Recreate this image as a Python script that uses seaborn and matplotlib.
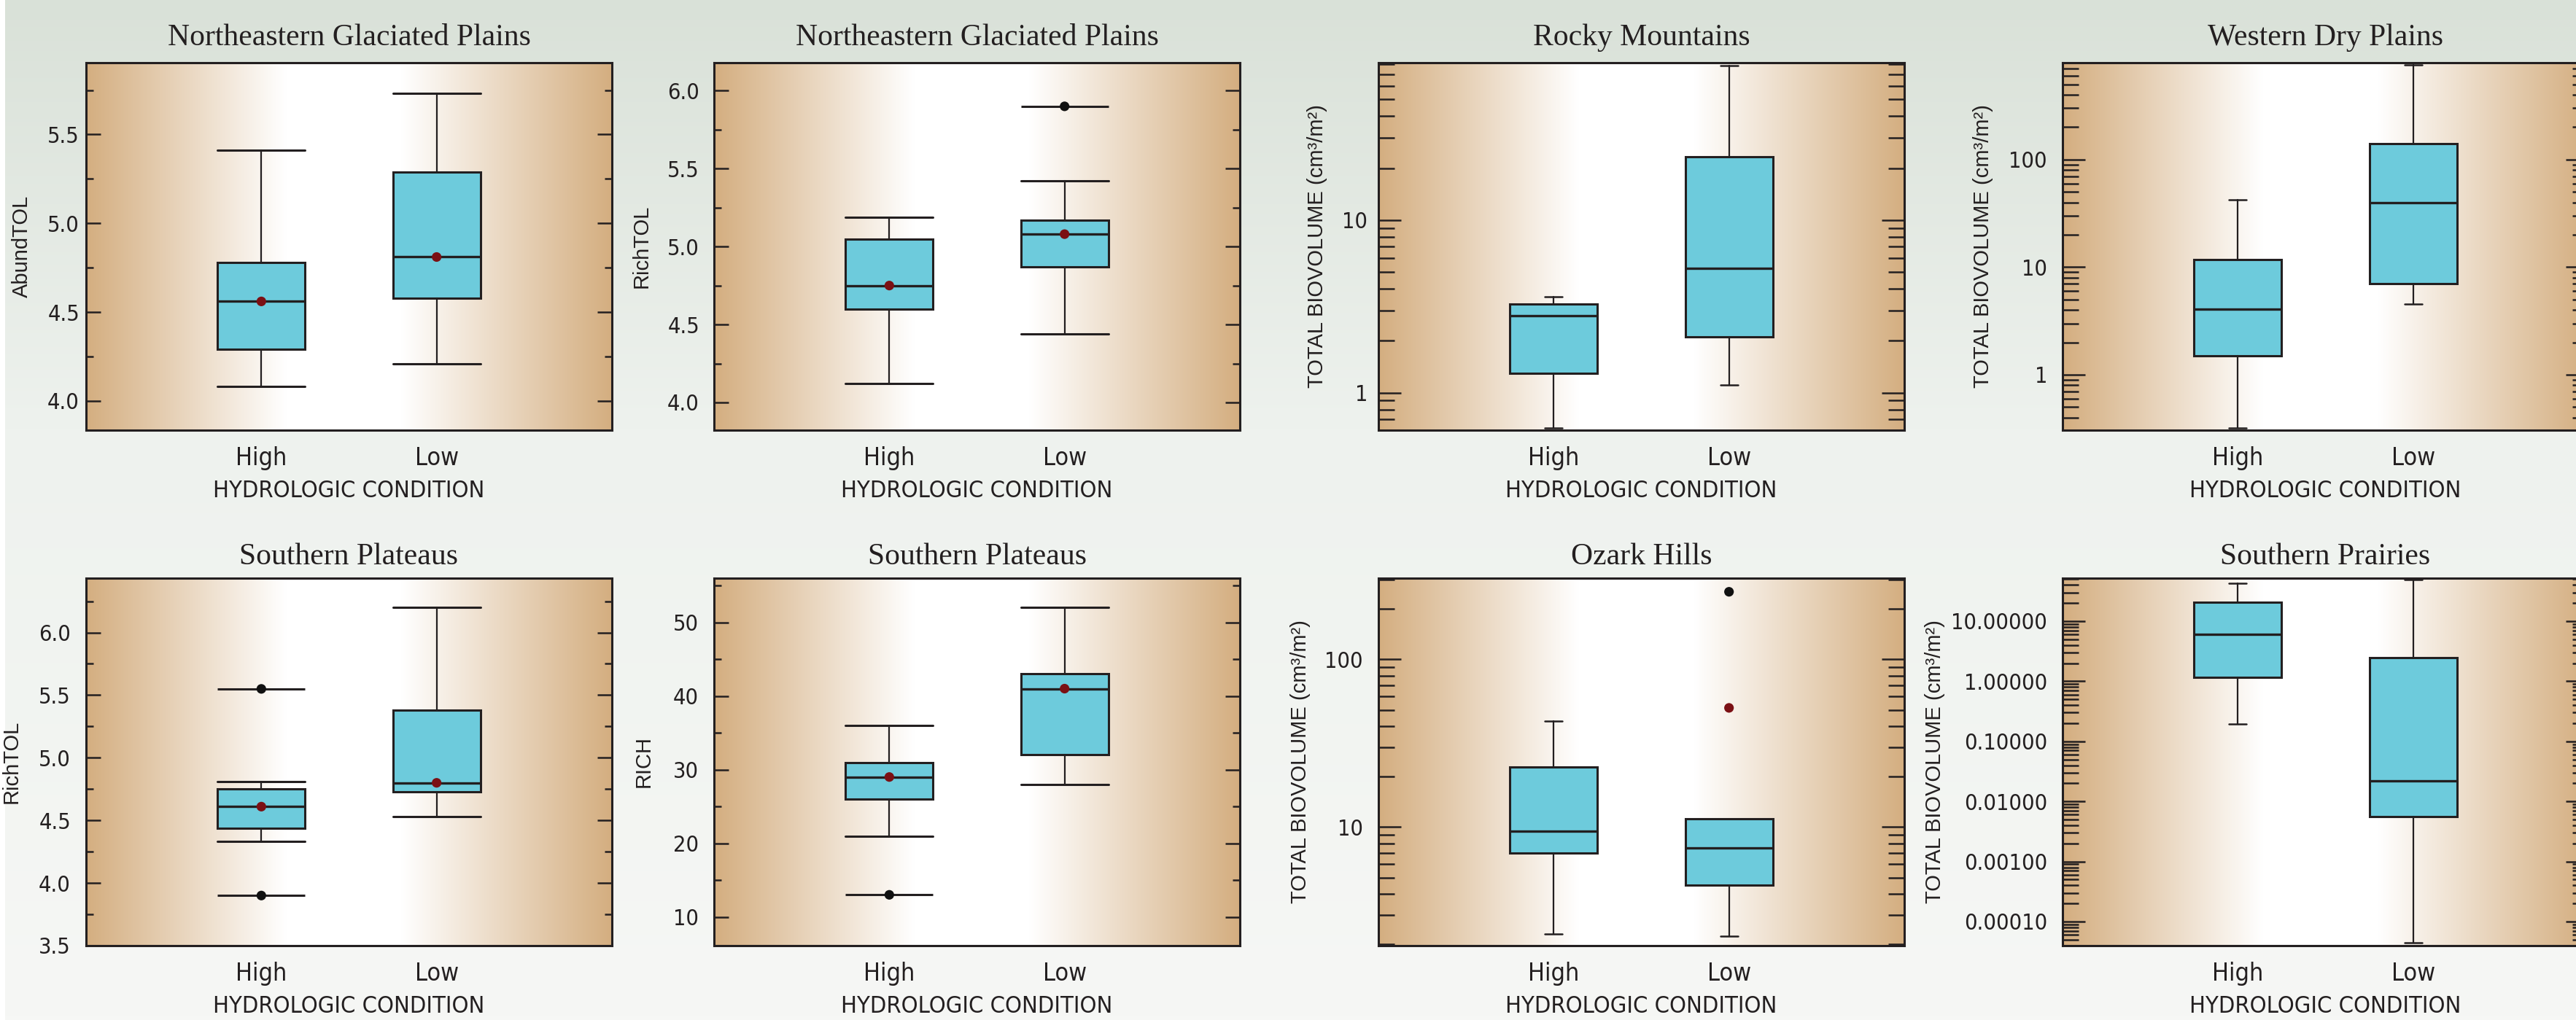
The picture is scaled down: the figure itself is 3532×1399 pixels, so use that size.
import numpy as np
import matplotlib
matplotlib.use('Agg')
import matplotlib.pyplot as plt
import seaborn as sns
from matplotlib import font_manager
from matplotlib.ticker import AutoMinorLocator, LogLocator, NullFormatter

sns.set_theme(style='white')
plt.rcParams['font.family'] = ['Liberation Sans', 'DejaVu Sans']

# ---------------- data ----------------
groups = ['High', 'Low']

# five-number summaries per group: [lower whisker, Q1, median, Q3, upper whisker]
ngp_abundtol = [[4.08, 4.29, 4.56, 4.78, 5.41], [4.21, 4.58, 4.81, 5.29, 5.73]]
ngp_richtol = [[4.12, 4.60, 4.75, 5.05, 5.19], [4.44, 4.87, 5.08, 5.17, 5.42]]
rocky_biovol = [[0.625, 1.29, 2.80, 3.27, 3.60], [1.11, 2.11, 5.26, 23.3, 78.4]]
wdp_biovol = [[0.322, 1.49, 4.07, 11.7, 42.0], [4.52, 6.98, 39.5, 141.0, 764.0]]
sp_richtol = [[4.33, 4.44, 4.61, 4.75, 4.81], [4.53, 4.73, 4.80, 5.38, 6.20]]
sp_rich = [[21.0, 26.0, 29.0, 31.0, 36.0], [28.0, 32.0, 41.0, 43.0, 52.0]]
ozark_biovol = [[2.30, 6.99, 9.48, 22.9, 42.8], [2.23, 4.49, 7.55, 11.2, 11.2]]
sprair_biovol = [[0.195, 1.15, 6.10, 20.9, 42.5], [4.4e-5, 0.00564, 0.0219, 2.45, 49.3]]

# group means (red dots), nan = not shown
ngp_abundtol_mean = [4.56, 4.81]
ngp_richtol_mean = [4.75, 5.08]
sp_richtol_mean = [4.61, 4.80]
sp_rich_mean = [29.0, 41.0]
ozark_mean = [np.nan, 51.4]

# outliers (black dots) per group
ngp_richtol_out = [[], [5.90]]
sp_richtol_out = [[3.90, 5.55], []]
sp_rich_out = [[13.0], []]
ozark_out = [[], [253.0]]

titles = ['Northeastern Glaciated Plains', 'Northeastern Glaciated Plains',
          'Rocky Mountains', 'Western Dry Plains',
          'Southern Plateaus', 'Southern Plateaus', 'Ozark Hills', 'Southern Prairies']
biovol_label = 'TOTAL BIOVOLUME (cm\u00b3/m\u00b2)'
ylabels = ['AbundTOL', 'RichTOL', biovol_label, biovol_label,
           'RichTOL', 'RICH', biovol_label, biovol_label]
xlabel = 'HYDROLOGIC CONDITION'

ticks_1 = [4.0, 4.5, 5.0, 5.5]
ticks_2 = [4.0, 4.5, 5.0, 5.5, 6.0]
ticks_3 = [1, 10]
ticks_4 = [1, 10, 100]
ticks_5 = [3.5, 4.0, 4.5, 5.0, 5.5, 6.0]
ticks_6 = [10, 20, 30, 40, 50]
ticks_7 = [10, 100]
ticks_8 = [0.0001, 0.001, 0.01, 0.1, 1, 10]
labels_1 = ['4.0', '4.5', '5.0', '5.5']
labels_2 = ['4.0', '4.5', '5.0', '5.5', '6.0']
labels_3 = ['1', '10']
labels_4 = ['1', '10', '100']
labels_5 = ['3.5', '4.0', '4.5', '5.0', '5.5', '6.0']
labels_6 = ['10', '20', '30', '40', '50']
labels_7 = ['10', '100']
labels_8 = ['0.00010', '0.00100', '0.01000', '0.10000', '1.00000', '10.00000']

# ---------------- styling ----------------
INK = '#231f20'
BOX = '#6dcbdc'
RED = '#7b1014'
TAN = np.array([212, 174, 128]) / 255.0


def pick_narrow():
    for f in font_manager.fontManager.ttflist:
        if f.name == 'Liberation Sans Narrow' and f.style == 'normal' and f.weight in (400, 'normal', 'regular'):
            return f.fname
    for f in font_manager.fontManager.ttflist:
        if 'condensed' in str(f.stretch) and f.style == 'normal' and f.weight in (400, 'normal') \
                and 'Mono' not in f.name:
            return f.fname
    return None


narrow_path = pick_narrow()


def narrow(size):
    if narrow_path:
        return font_manager.FontProperties(fname=narrow_path, size=size)
    return font_manager.FontProperties(family='Liberation Sans', size=size * 0.82)


W, H = 3532, 1399
fig = plt.figure(figsize=(W / 100, H / 100), dpi=100)
fig.patch.set_facecolor('white')

# page background: soft vertical grey-green gradient
bg = fig.add_axes([7 / W, 0, 1 - 7 / W, 1], zorder=-10)
yy = np.linspace(0, 1, 300)
top_c = np.array([217, 225, 216]) / 255
mid_c = np.array([238, 242, 238]) / 255
bot_c = np.array([246, 247, 245]) / 255
col = np.where(yy[:, None] < 0.42,
               top_c + (mid_c - top_c) * (yy[:, None] / 0.42),
               mid_c + (bot_c - mid_c) * ((yy[:, None] - 0.42) / 0.58))
bg.imshow(col[:, None, :], aspect='auto', extent=[0, 1, 1, 0])
bg.axis('off')

# panel gradient: tan edges, white centre
xx = np.linspace(0, 1, 600)
wgt = np.where(xx < 0.38, (0.38 - xx) / 0.38, np.where(xx > 0.6, (xx - 0.6) / 0.4, 0.0))
pgrad = (1 - wgt[:, None]) * np.ones(3) + wgt[:, None] * TAN

panels = [
    dict(s=ngp_abundtol, mean=ngp_abundtol_mean, out=None, log=False, ylim=(3.835, 5.904),
         ticks=ticks_1, labels=labels_1, lx=-0.103, pad=9),
    dict(s=ngp_richtol, mean=ngp_richtol_mean, out=ngp_richtol_out, log=False, ylim=(3.822, 6.18),
         ticks=ticks_2, labels=labels_2, lx=-0.119, pad=20),
    dict(s=rocky_biovol, mean=None, out=None, log=True, ylim=(0.607, 81.5),
         ticks=ticks_3, labels=labels_3, lx=-0.097, pad=15),
    dict(s=wdp_biovol, mean=None, out=None, log=True, ylim=(0.305, 795),
         ticks=ticks_4, labels=labels_4, lx=-0.132, pad=21),
    dict(s=sp_richtol, mean=sp_richtol_mean, out=sp_richtol_out, log=False, ylim=(3.5, 6.434),
         ticks=ticks_5, labels=labels_5, lx=-0.122, pad=21),
    dict(s=sp_rich, mean=sp_rich_mean, out=sp_rich_out, log=False, ylim=(6.1, 56.0),
         ticks=ticks_6, labels=labels_6, lx=-0.114, pad=21),
    dict(s=ozark_biovol, mean=ozark_mean, out=ozark_out, log=True, ylim=(1.965, 305),
         ticks=ticks_7, labels=labels_7, lx=-0.129, pad=21, outline=False),
    dict(s=sprair_biovol, mean=None, out=None, log=True, ylim=(3.97e-5, 51.9),
         ticks=ticks_8, labels=labels_8, lx=-0.223, pad=21),
]

lefts = [118, 979, 1890, 2828]
row_tops = [86, 793]
pw, ph = 721, 504
positions = [1, 2]

for i, p in enumerate(panels):
    r, c = divmod(i, 4)
    rect = [lefts[c] / W, 1 - (row_tops[r] + ph) / H, pw / W, ph / H]
    bax = fig.add_axes(rect, zorder=0)
    bax.imshow(pgrad[None, :, :], aspect='auto', extent=[0, 1, 0, 1])
    bax.axis('off')

    ax = fig.add_axes(rect, zorder=1)
    ax.set_facecolor('none')
    if p['log']:
        ax.set_yscale('log')

    stats = [dict(label=g, whislo=s[0], q1=s[1], med=s[2], q3=s[3], whishi=s[4], fliers=[])
             for g, s in zip(groups, p['s'])]
    capw = 0.1 if p['log'] else 0.5
    ax.bxp(stats, positions=positions, widths=0.5, capwidths=capw, patch_artist=True,
           showfliers=False, manage_ticks=False,
           boxprops=dict(facecolor=BOX, edgecolor=INK, linewidth=2.2),
           medianprops=dict(color=INK, linewidth=2.4),
           whiskerprops=dict(color=INK, linewidth=1.6),
           capprops=dict(color=INK, linewidth=2.2 if not p['log'] else 1.8), zorder=3)

    if p['out'] is not None:
        for pos, vals in zip(positions, p['out']):
            for v in vals:
                if p.get('outline', True):
                    ax.hlines(v, pos - 0.25, pos + 0.25, color=INK, lw=2.2, zorder=4)
                sns.scatterplot(x=[pos], y=[v], ax=ax, color='#111111', s=90,
                                edgecolor='none', zorder=5, legend=False)
    if p['mean'] is not None:
        mx = [pos for pos, m in zip(positions, p['mean']) if not np.isnan(m)]
        my = [m for m in p['mean'] if not np.isnan(m)]
        sns.scatterplot(x=mx, y=my, ax=ax, color=RED, s=90, edgecolor='none', zorder=6, legend=False)

    ax.set_xlim(0, 3)
    ax.set_ylim(*p['ylim'])
    ax.set_yticks(p['ticks'], p['labels'], fontproperties=narrow(22), color=INK)
    if p['log']:
        ax.yaxis.set_minor_locator(LogLocator(base=10, subs=np.arange(2, 10), numticks=100))
        ax.yaxis.set_minor_formatter(NullFormatter())
        maj, mnr = 22, 16
    else:
        ax.yaxis.set_minor_locator(AutoMinorLocator(2))
        maj, mnr = 14.4, 7
    ax.tick_params(axis='y', which='major', direction='in', left=True, right=True,
                   length=maj, width=1.8, color=INK, pad=p['pad'] * 0.72)
    ax.tick_params(axis='y', which='minor', direction='in', left=True, right=True,
                   length=mnr, width=1.8, color=INK)

    ax.set_xticks(positions, groups, fontproperties=narrow(24.5), color=INK)
    ax.tick_params(axis='x', length=0, pad=16)
    ax.set_xlabel(xlabel, fontproperties=narrow(23.4), color=INK, labelpad=9.5)
    ax.set_ylabel(ylabels[i], fontsize=21, color=INK)
    ax.yaxis.set_label_coords(p['lx'], 0.5)
    ax.set_title(titles[i], family='Liberation Serif', fontsize=30, color=INK,
                 pad=17 if r == 0 else 14)

    for sp in ax.spines.values():
        sp.set_visible(True)
        sp.set_color(INK)
        sp.set_linewidth(2.2)
    ax.grid(False)

fig.savefig('out.png', dpi=100, facecolor=fig.get_facecolor())
